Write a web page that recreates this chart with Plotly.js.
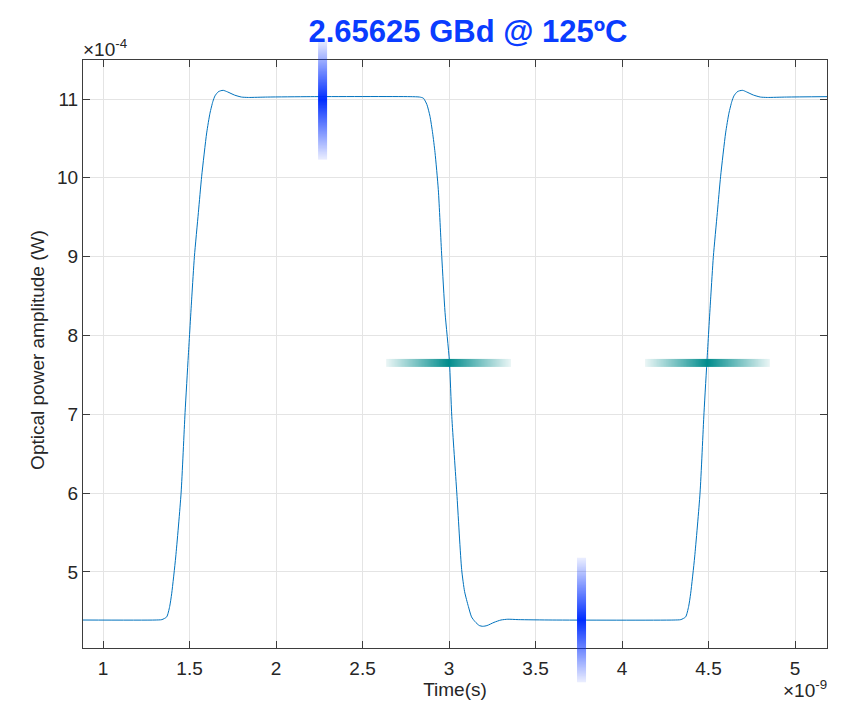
<!DOCTYPE html>
<html><head><meta charset="utf-8">
<script src="https://cdn.plot.ly/plotly-3.0.1.min.js"></script>
<style>body{margin:0;background:#fff}</style>
</head><body><div id="chart" style="width:850px;height:701px"></div>
<script>
// Time in units of 1e-9 s, power in units of 1e-4 W
const timeNs = [0.884,1.30,1.34,1.368,1.385,1.397,1.42,1.451,1.474,1.493,1.513,1.528,1.551,1.570,1.599,1.618,1.635,1.647,1.665,1.68,1.695,1.72,1.76,1.80,1.84,1.95,2.2,2.775,2.83,2.852,2.872,2.890,2.905,2.919,2.938,2.958,2.977,3.002,3.016,3.045,3.073,3.09,3.112,3.130,3.150,3.175,3.195,3.22,3.26,3.30,3.34,3.40,3.60,4.30,4.34,4.368,4.385,4.397,4.42,4.451,4.474,4.493,4.513,4.528,4.551,4.570,4.599,4.618,4.635,4.647,4.665,4.68,4.698,4.72,4.76,4.80,4.84,4.95,5.185];
const powerE4 = [4.39,4.39,4.395,4.43,4.56,4.73,5.19,6.00,7.02,7.75,8.49,9.00,9.56,10.02,10.57,10.82,10.97,11.04,11.09,11.105,11.11,11.09,11.05,11.025,11.02,11.025,11.03,11.03,11.025,11.01,10.93,10.78,10.57,10.32,9.85,9.00,8.29,7.68,6.97,6.00,5.03,4.75,4.56,4.43,4.37,4.32,4.31,4.32,4.36,4.39,4.40,4.395,4.39,4.39,4.395,4.43,4.56,4.73,5.19,6.00,7.02,7.75,8.49,9.00,9.56,10.02,10.57,10.82,10.97,11.04,11.09,11.105,11.11,11.09,11.05,11.025,11.02,11.025,11.03];

const xTicks = [1,1.5,2,2.5,3,3.5,4,4.5,5];
const xTickLabels = ['1','1.5','2','2.5','3','3.5','4','4.5','5'];
const yTicks = [5,6,7,8,9,10,11];
const yTickLabels = ['5','6','7','8','9','10','11'];

// jitter indicators (vertical: amplitude spread; horizontal: timing spread)
const vBarX = [2.269, 3.766];
const vBarYLow = [10.23, 3.60];
const vBarYHigh = [11.75, 5.18];
const hBarY = [7.652, 7.652];
const hBarXLow = [2.636, 4.133];
const hBarXHigh = [3.358, 4.855];

const xRange = [0.884, 5.185];
const yRange = [4.035, 11.495];
const W = 850, H = 701;
const M = {l: 83, r: 23, t: 60, b: 53};
const plotW = W - M.l - M.r, plotH = H - M.t - M.b;

function gradientURL(vertical, rgb) {
  const c = document.createElement('canvas');
  c.width = vertical ? 4 : 256; c.height = vertical ? 256 : 4;
  const ctx = c.getContext('2d');
  const g = vertical ? ctx.createLinearGradient(0,0,0,256) : ctx.createLinearGradient(0,0,256,0);
  g.addColorStop(0, 'rgba(' + rgb + ',0.08)');
  g.addColorStop(0.5, 'rgba(' + rgb + ',1)');
  g.addColorStop(1, 'rgba(' + rgb + ',0.08)');
  ctx.fillStyle = g; ctx.fillRect(0,0,c.width,c.height);
  return c.toDataURL();
}
const blueURL = gradientURL(true, '0,45,255');
const tealURL = gradientURL(false, '0,140,140');
const toPaperY = v => (v - yRange[0]) / (yRange[1] - yRange[0]);
const xPerPx = (xRange[1] - xRange[0]) / plotW;
const yPerPx = (yRange[1] - yRange[0]) / plotH;

const images = [];
vBarX.forEach((x, i) => {
  images.push({source: blueURL, xref: 'x', yref: 'paper', x: x, y: toPaperY(vBarYHigh[i]),
    sizex: 9 * xPerPx, sizey: toPaperY(vBarYHigh[i]) - toPaperY(vBarYLow[i]),
    xanchor: 'center', yanchor: 'top', sizing: 'stretch', layer: 'above'});
});
hBarY.forEach((y, i) => {
  images.push({source: tealURL, xref: 'x', yref: 'y', x: hBarXLow[i], y: y,
    sizex: hBarXHigh[i] - hBarXLow[i], sizey: 8 * yPerPx,
    xanchor: 'left', yanchor: 'middle', sizing: 'stretch', layer: 'above'});
});

const fontFam = 'Liberation Sans, Arial, Helvetica, sans-serif';
const axisCommon = {
  showline: true, linecolor: '#3d3d3d', linewidth: 1, mirror: 'ticks',
  ticks: 'inside', ticklen: 7, tickwidth: 1, tickcolor: '#3d3d3d',
  showgrid: true, gridcolor: '#e4e4e4', gridwidth: 1, zeroline: false,
  tickfont: {family: fontFam, size: 19, color: '#262626'}
};

const trace = {x: timeNs, y: powerE4, type: 'scatter', mode: 'lines',
  line: {color: '#0072BD', width: 1, shape: 'spline', smoothing: 0.6}, hoverinfo: 'skip'};

const layout = {
  width: W, height: H, margin: M, showlegend: false,
  paper_bgcolor: '#ffffff', plot_bgcolor: '#ffffff',
  font: {family: fontFam, color: '#262626'},
  title: {text: '<b>2.65625 GBd @ 125ºC</b>', x: 468 / W, xanchor: 'center',
    y: 1 - 31 / H, yanchor: 'middle', font: {family: fontFam, size: 31, color: '#0a3cff'}},
  xaxis: Object.assign({}, axisCommon, {range: xRange, tickvals: xTicks, ticktext: xTickLabels,
    ticklabelstandoff: 3,
    title: {text: 'Time(s)', font: {family: fontFam, size: 19, color: '#262626'}, standoff: 4}}),
  yaxis: Object.assign({}, axisCommon, {range: yRange, tickvals: yTicks, ticktext: yTickLabels,
    ticksuffix: '\u2009\u2009'}),
  images: images,
  annotations: [
    {text: 'Optical power amplitude (W)', textangle: -90, xref: 'paper', yref: 'paper',
      x: 0, y: 0.507, xanchor: 'center', yanchor: 'middle', xshift: -45,
      showarrow: false, font: {family: fontFam, size: 19, color: '#262626'}},
    {text: '×10<sup>-4</sup>', xref: 'paper', yref: 'paper', x: 0, y: 1, xanchor: 'left', yanchor: 'bottom',
      showarrow: false, font: {family: fontFam, size: 19, color: '#262626'}, xshift: -2, yshift: -2},
    {text: '×10<sup>-9</sup>', xref: 'paper', yref: 'paper', x: 1, y: 0, xanchor: 'right', yanchor: 'top',
      showarrow: false, font: {family: fontFam, size: 19, color: '#262626'}, xshift: 2, yshift: -27}
  ]
};
Plotly.newPlot('chart', [trace], layout, {displayModeBar: false, staticPlot: true});
</script></body></html>
